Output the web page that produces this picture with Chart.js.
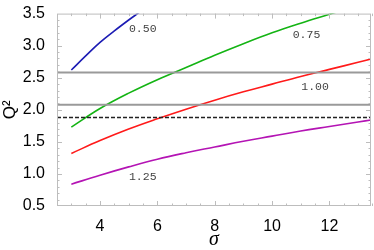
<!doctype html>
<html lang="en">
  <head>
    <meta charset="utf-8">
    <title>Q2 vs sigma</title>
    <style>
      html, body { margin: 0; padding: 0; background: #fff; }
      #wrap { width: 374px; height: 250px; }
    </style>
  </head>
  <body>
    <div id="wrap"><canvas id="myChart" width="374" height="250"></canvas></div>

    <script src="https://cdn.jsdelivr.net/npm/chart.js@4/dist/chart.umd.min.js"></script>
    <script>
        // values
        var sigmaBlue = [3, 3.5, 4, 4.5, 5, 5.4]
        var q2Blue = [2.62, 2.84, 3.05, 3.23, 3.40, 3.53]
        var sigma = [3, 4, 5, 6, 7, 8, 9, 10, 11, 12, 13, 13.5]
        var q2Green = [1.73, 2.02, 2.26, 2.47, 2.66, 2.85, 3.03, 3.20, 3.35, 3.49, 3.63, 3.70]
        var q2Red = [1.32, 1.52, 1.70, 1.86, 2.01, 2.15, 2.28, 2.40, 2.52, 2.63, 2.74, 2.80]
        var q2Purple = [0.84, 0.98, 1.11, 1.23, 1.33, 1.42, 1.51, 1.59, 1.67, 1.74, 1.81, 1.845]
        var hLines = [2.58, 2.08]
        var dashLine = 1.88
        var curveNames = ['0.50', '0.75', '1.00', '1.25']
        var nameSigma = [5.49, 11.2, 11.5, 5.49]
        var nameQ2 = [3.255, 3.16, 2.35, 0.95]
        var xTicks = [4, 6, 8, 10, 12]
        var yTicks = [0.5, 1.0, 1.5, 2.0, 2.5, 3.0, 3.5]
        var xMin = 2.5, xMax = 13.45, yMin = 0.5, yMax = 3.5

        function pts(xs, ys) {
            return xs.map(function (v, i) { return {x: v, y: ys[i]} })
        }
        function curve(xs, ys, color) {
            return {data: pts(xs, ys), borderColor: color, borderWidth: 1.6,
                    pointRadius: 0, tension: 0.4, fill: false}
        }
        function hline(v, color, width, dash) {
            return {data: [{x: xMin, y: v}, {x: xMax, y: v}], borderColor: color,
                    borderWidth: width, borderDash: dash || [], pointRadius: 0, fill: false}
        }

        // frame with inward ticks on all sides, plus curve names
        var frame = {
            id: 'frame',
            afterDatasetsDraw: function (chart) {
                var ctx = chart.ctx, a = chart.chartArea
                var x = chart.scales.x, y = chart.scales.y
                ctx.save()
                ctx.strokeStyle = '#bdbdbd'
                ctx.lineWidth = 1
                ctx.strokeRect(a.left + 0.5, a.top + 0.5, a.right - a.left - 1, a.bottom - a.top - 1)
                ctx.beginPath()
                for (var i = 6; i <= 27; i++) {
                    var v = i / 2
                    var px = Math.round(x.getPixelForValue(v)) + 0.5
                    var len = (v % 2 == 0) ? 5 : 2.5
                    ctx.moveTo(px, a.bottom); ctx.lineTo(px, a.bottom - len)
                    ctx.moveTo(px, a.top); ctx.lineTo(px, a.top + len)
                }
                for (var j = 6; j <= 34; j++) {
                    var w = j / 10
                    var py = Math.round(y.getPixelForValue(w)) + 0.5
                    var l2 = (j % 5 == 0) ? 5 : 2.5
                    ctx.moveTo(a.left, py); ctx.lineTo(a.left + l2, py)
                    ctx.moveTo(a.right, py); ctx.lineTo(a.right - l2, py)
                }
                ctx.stroke()

                ctx.fillStyle = '#444'
                ctx.font = '11.5px "Liberation Mono", "DejaVu Sans Mono", monospace'
                ctx.textAlign = 'center'
                ctx.textBaseline = 'middle'
                for (var k = 0; k < curveNames.length; k++) {
                    ctx.fillText(curveNames[k], x.getPixelForValue(nameSigma[k]), y.getPixelForValue(nameQ2[k]))
                }
                ctx.restore()
            }
        }

        var ctx = document.getElementById('myChart').getContext('2d')
        var chart = new Chart(ctx, {
            type: 'line',
            data: {
                datasets: [
                    hline(hLines[0], '#9a9a9a', 2),
                    hline(hLines[1], '#9a9a9a', 2),
                    hline(dashLine, '#222', 1.3, [4, 2]),
                    curve(sigmaBlue, q2Blue, '#1c1cb4'),
                    curve(sigma, q2Green, '#14b414'),
                    curve(sigma, q2Red, '#ff1a1a'),
                    curve(sigma, q2Purple, '#b414b4')
                ]
            },
            options: {
                responsive: false,
                animation: false,
                layout: {padding: {top: 10, right: 3, left: 0, bottom: 0}},
                plugins: {legend: {display: false}, tooltip: {enabled: false}},
                scales: {
                    x: {
                        type: 'linear', min: xMin, max: xMax,
                        grid: {display: false}, border: {display: false},
                        afterBuildTicks: function (s) { s.ticks = xTicks.map(function (v) { return {value: v} }) },
                        afterFit: function (s) { s.height = 44 },
                        ticks: {color: '#000', padding: 3, maxRotation: 0,
                                font: {family: '"Liberation Sans", Arial, sans-serif', size: 16}},
                        title: {display: true, text: 'σ', color: '#000', padding: 0,
                                font: {family: '"Liberation Serif", "DejaVu Serif", serif', size: 20,
                                       style: 'italic', lineHeight: 1}}
                    },
                    y: {
                        type: 'linear', min: yMin, max: yMax,
                        grid: {display: false}, border: {display: false},
                        afterBuildTicks: function (s) { s.ticks = yTicks.map(function (v) { return {value: v} }) },
                        afterFit: function (s) { s.width = 57 },
                        ticks: {color: '#000', padding: 4,
                                callback: function (v) { return v.toFixed(1) },
                                font: {family: '"Liberation Sans", Arial, sans-serif', size: 16}},
                        title: {display: true, text: 'Q²', color: '#000', padding: {top: 0, bottom: 0},
                                font: {family: '"Liberation Sans", Arial, sans-serif', size: 17}}
                    }
                }
            },
            plugins: [frame]
        })
    </script>
  </body>
</html>
